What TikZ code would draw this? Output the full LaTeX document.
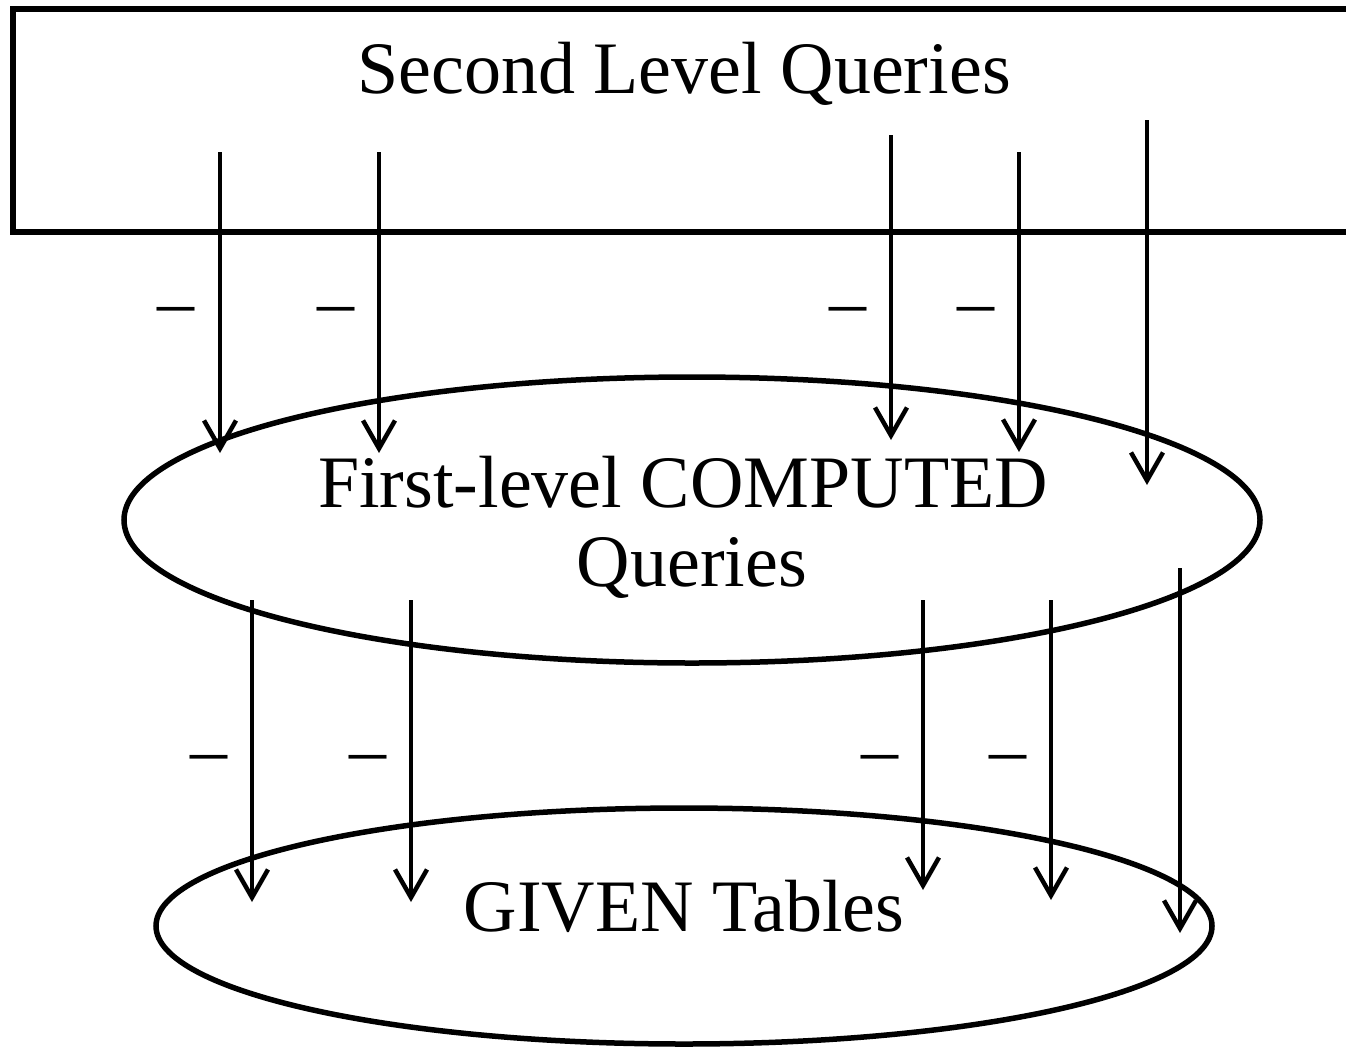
\documentclass[tikz,border=0pt]{standalone}
\usepackage{fontspec}
\setmainfont{Liberation Serif}
\usetikzlibrary{arrows.meta,shapes.geometric}
\tikzset{
  shapeline/.style={draw=black, line width=5.5pt},
  flow/.style={draw=black, line width=4.5pt, line cap=butt,
    -{Straight Barb[length=28pt,width=32pt,line width=4.5pt]}},
  bigtext/.style={font=\fontsize{74}{85}\selectfont, inner sep=0pt},
  minus/.style={font=\fontsize{74}{85}\selectfont, inner sep=0pt},
}
\begin{document}
\begin{tikzpicture}[x=1pt,y=-1pt]
\useasboundingbox (0,0) rectangle (1346,1047);
\clip (0,0) rectangle (1346,1047);

% top layer: query box running off the right edge
\draw[shapeline, line join=miter] (1380,9) -- (13,9) -- (13,232) -- (1380,232);
\node[bigtext] (top) at (684,74) {Second Level Queries};

% middle and bottom ellipses
\node[shapeline, ellipse, minimum width=1136pt, minimum height=286pt, inner sep=0pt] (mid) at (692,520) {};
\node[bigtext] (midA) at (683,482) {First-level COMPUTED};
\node[bigtext] (midB) at (692,568) {Queries};

\node[shapeline, ellipse, minimum width=1056pt, minimum height=236pt, inner sep=0pt] (low) at (684,926) {};
\node[bigtext] (lowT) at (684,906) {GIVEN Tables};

% arrows from the box down into the middle ellipse
\foreach \n/\x/\a/\b in {1/220/152/453, 2/379/152/453, 3/891/135/440, 4/1019/152/452, 5/1147/120/485}{
  \coordinate (s\n) at (\x,\a);
  \coordinate (e\n) at (\x,\b);
  \draw[flow] (s\n) -- (e\n);
}
% arrows from the middle ellipse down into the bottom ellipse
\foreach \n/\x/\a/\b in {1/252/600/902, 2/411/600/902, 3/923/600/890, 4/1051/600/900, 5/1180/568/933}{
  \coordinate (t\n) at (\x,\a);
  \coordinate (f\n) at (\x,\b);
  \draw[flow] (t\n) -- (f\n);
}

% minus signs beside the arrows
\foreach \n/\x/\y in {1/176/317, 2/336/317, 3/848/317, 4/976/317,
                      5/209/765, 6/368/765, 7/880/765, 8/1008/765}{
  \node[minus] (m\n) at (\x,\y) {–};
}
\end{tikzpicture}
\end{document}
